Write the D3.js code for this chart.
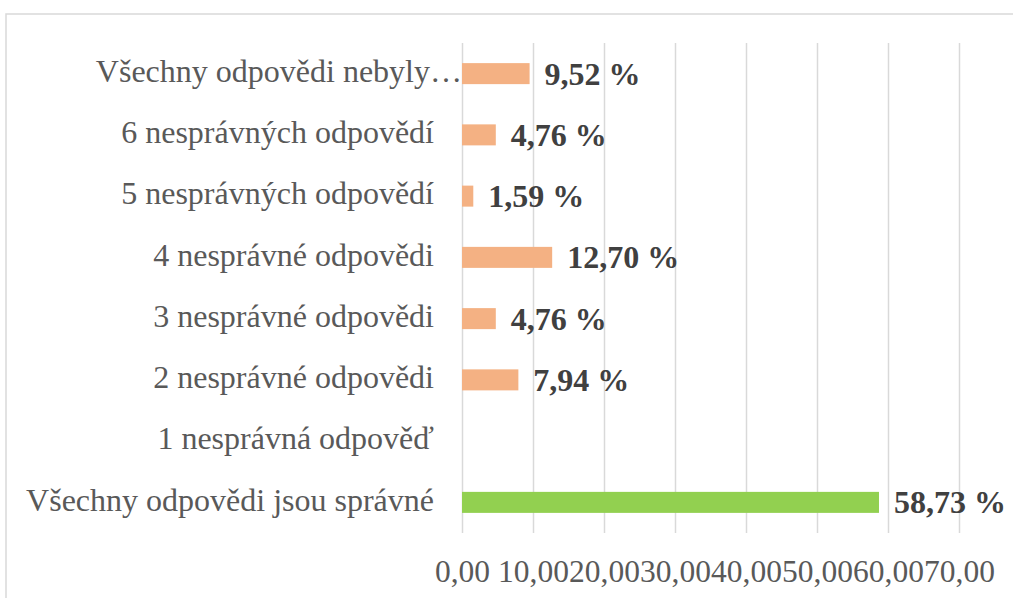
<!DOCTYPE html>
<html>
<head>
<meta charset="utf-8">
<script src="https://cdn.jsdelivr.net/npm/d3@7"></script>
<style>
  body { margin: 0; background: #fff; }
  svg { display: block; font-family: "Liberation Serif", "Times New Roman", serif; }
</style>
</head>
<body>
<script>
// data, top to bottom
var categories = [
  "Všechny odpovědi nebyly…",
  "6 nesprávných odpovědí",
  "5 nesprávných odpovědí",
  "4 nesprávné odpovědi",
  "3 nesprávné odpovědi",
  "2 nesprávné odpovědi",
  "1 nesprávná odpověď",
  "Všechny odpovědi jsou správné"
];
var values = [9.52, 4.76, 1.59, 12.70, 4.76, 7.94, 0, 58.73];
var tickValues = [0, 10, 20, 30, 40, 50, 60, 70];

var W = 1013, H = 598;
var plot = {left: 462, right: 959, top: 43, bottom: 533};

var svg = d3.select("body").append("svg")
    .attr("width", W)
    .attr("height", H);

// chart frame
svg.append("rect")
    .attr("x", 6).attr("y", 14)
    .attr("width", W + 10).attr("height", H + 10)
    .attr("fill", "none")
    .attr("stroke", "#d9d9d9")
    .attr("stroke-width", 1.5);

var x = d3.scaleLinear().domain([0, 70]).range([plot.left, plot.right]);
var y = d3.scaleBand().domain(categories).range([plot.top, plot.bottom])
    .paddingInner(0.657).paddingOuter(0.3285);

var fmt = function(d) { return d3.format(".2f")(d).replace(".", ","); };

// gridlines
svg.append("g")
    .attr("transform", "translate(0," + plot.bottom + ")")
    .call(d3.axisBottom(x).tickValues(tickValues).tickSize(-(plot.bottom - plot.top)).tickFormat(""))
    .call(function(g) {
      g.select(".domain").remove();
      g.selectAll("line").attr("stroke", "#d9d9d9").attr("stroke-width", 1.5);
    });

// tick labels
svg.append("g")
    .attr("transform", "translate(0," + plot.bottom + ")")
    .call(d3.axisBottom(x).tickValues(tickValues).tickSize(0).tickPadding(0).tickFormat(fmt))
    .call(function(g) {
      g.select(".domain").remove();
      g.selectAll("text")
        .attr("y", 49)
        .attr("dy", 0)
        .attr("fill", "#595959")
        .style("font-size", "31.5px")
        .style("font-family", "Liberation Serif, Times New Roman, serif");
    });

// category labels
svg.append("g").selectAll("text")
    .data(categories)
  .enter().append("text")
    .attr("x", function(d) { return d.slice(-1) === "…" ? plot.left : plot.left - 28; })
    .attr("y", function(d) { return y(d) + y.bandwidth() / 2; })
    .attr("dy", "0.26em")
    .attr("text-anchor", "end")
    .attr("fill", "#595959")
    .style("font-size", "32px")
    .text(function(d) { return d; });

// bars
svg.append("g").selectAll("rect")
    .data(values)
  .enter().append("rect")
    .attr("x", x(0))
    .attr("y", function(d, i) { return y(categories[i]); })
    .attr("width", function(d) { return x(d) - x(0); })
    .attr("height", y.bandwidth())
    .attr("fill", function(d, i) { return i === categories.length - 1 ? "#92d050" : "#f4b183"; });

// value labels (no label for the empty bar)
svg.append("g").selectAll("text")
    .data(values)
  .enter().append("text")
    .attr("x", function(d) { return x(d) + 15; })
    .attr("y", function(d, i) { return y(categories[i]) + y.bandwidth() / 2; })
    .attr("dy", "0.34em")
    .attr("fill", "#404040")
    .style("font-size", "32px")
    .style("font-weight", "bold")
    .text(function(d) { return d > 0 ? fmt(d) + " %" : ""; });
</script>
</body>
</html>
